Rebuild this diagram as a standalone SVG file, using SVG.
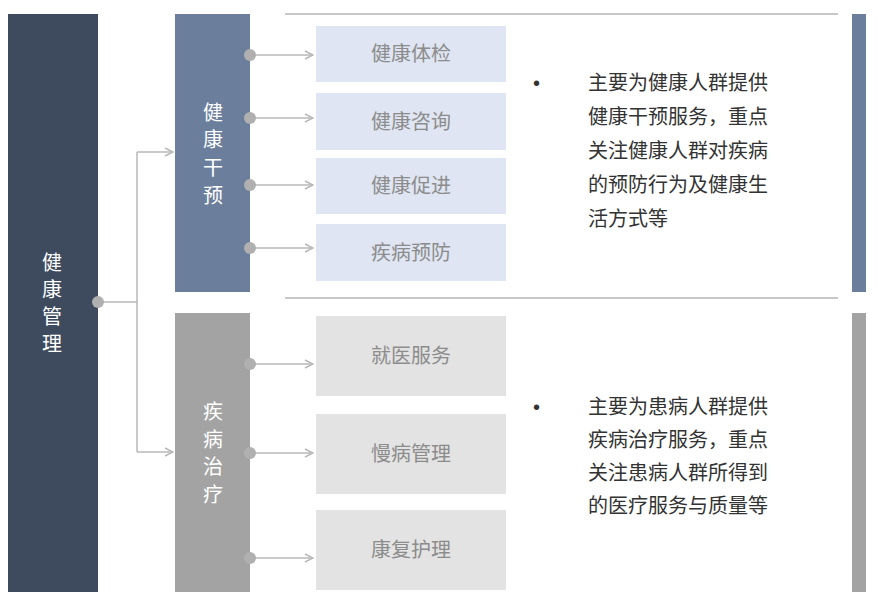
<svg xmlns="http://www.w3.org/2000/svg" width="880" height="604" viewBox="0 0 880 604">
<defs>
<style>
text{font-family:"Liberation Sans","Noto Sans CJK SC",sans-serif}
.v{fill:#fff;font-size:20px;text-anchor:middle}
.b{fill:#8c8c8c;font-size:20px;text-anchor:middle}
.d{fill:#333;font-size:20px}
.c{stroke:#b8b8b8;stroke-width:1.5;fill:none}
.dot{fill:#b0b0b0}
.bl{fill:#dfe5f2}
.gr{fill:#e3e3e3}
</style>
<marker id="a" markerWidth="10" markerHeight="10" refX="9" refY="5" orient="auto" markerUnits="userSpaceOnUse"><path d="M1,1 L9,5 L1,9" fill="none" stroke="#b8b8b8" stroke-width="1.5"/></marker>
</defs>
<rect width="880" height="604" fill="#fff"/>
<g id="root"><rect x="8" y="14" width="90" height="578" fill="#3e4b5e"/>
<text class="v" x="52" y="270">健</text><text class="v" x="52" y="297">康</text><text class="v" x="52" y="324">管</text><text class="v" x="52" y="351">理</text></g>
<g id="g1"><rect x="175" y="14" width="75" height="278" fill="#6b7f9d"/>
<text class="v" x="213" y="120">健</text><text class="v" x="213" y="147">康</text><text class="v" x="213" y="175">干</text><text class="v" x="213" y="203">预</text></g>
<g id="g2"><rect x="175" y="313" width="75" height="279" fill="#a3a3a3"/>
<text class="v" x="213" y="419">疾</text><text class="v" x="213" y="447">病</text><text class="v" x="213" y="474">治</text><text class="v" x="213" y="502">疗</text></g>
<g id="b1"><rect class="bl" x="316" y="26" width="190" height="56"/><text class="b" x="411" y="61">健康体检</text></g>
<g id="b2"><rect class="bl" x="316" y="93" width="190" height="57"/><text class="b" x="411" y="129">健康咨询</text></g>
<g id="b3"><rect class="bl" x="316" y="158" width="190" height="56"/><text class="b" x="411" y="193">健康促进</text></g>
<g id="b4"><rect class="bl" x="316" y="224" width="190" height="57"/><text class="b" x="411" y="260">疾病预防</text></g>
<g id="b5"><rect class="gr" x="316" y="316" width="190" height="80"/><text class="b" x="411" y="363">就医服务</text></g>
<g id="b6"><rect class="gr" x="316" y="414" width="190" height="80"/><text class="b" x="411" y="461">慢病管理</text></g>
<g id="b7"><rect class="gr" x="316" y="510" width="190" height="80"/><text class="b" x="411" y="557">康复护理</text></g>
<g id="desc1"><text class="d" x="533" y="90">•</text>
<text class="d" x="588" y="90">主要为健康人群提供</text><text class="d" x="588" y="124">健康干预服务，重点</text><text class="d" x="588" y="158">关注健康人群对疾病</text><text class="d" x="588" y="192">的预防行为及健康生</text><text class="d" x="588" y="226">活方式等</text></g>
<g id="desc2"><text class="d" x="533" y="414">•</text>
<text class="d" x="588" y="414">主要为患病人群提供</text><text class="d" x="588" y="447">疾病治疗服务，重点</text><text class="d" x="588" y="480">关注患病人群所得到</text><text class="d" x="588" y="513">的医疗服务与质量等</text></g>
<g id="deco">
<line x1="285" y1="14" x2="838" y2="14" stroke="#c8c8c8" stroke-width="2"/>
<line x1="285" y1="298" x2="838" y2="298" stroke="#c8c8c8" stroke-width="2"/>
<rect x="852" y="14" width="14" height="278" fill="#6b7f9d"/>
<rect x="852" y="313" width="14" height="279" fill="#a3a3a3"/>
</g>
<g id="connectors">
<path class="c" d="M98,302 H137 M137,152 V452" />
<path class="c" d="M137,152 H173" marker-end="url(#a)"/>
<path class="c" d="M137,452 H173" marker-end="url(#a)"/>
<path class="c" d="M250,55 H313" marker-end="url(#a)"/>
<path class="c" d="M250,118 H313" marker-end="url(#a)"/>
<path class="c" d="M250,185 H313" marker-end="url(#a)"/>
<path class="c" d="M250,248 H313" marker-end="url(#a)"/>
<path class="c" d="M250,364 H313" marker-end="url(#a)"/>
<path class="c" d="M250,453 H313" marker-end="url(#a)"/>
<path class="c" d="M250,558 H313" marker-end="url(#a)"/>
<circle class="dot" cx="98" cy="302" r="6"/>
<circle class="dot" cx="250" cy="55" r="6"/><circle class="dot" cx="250" cy="118" r="6"/>
<circle class="dot" cx="250" cy="185" r="6"/><circle class="dot" cx="250" cy="248" r="6"/>
<circle class="dot" cx="250" cy="364" r="6"/><circle class="dot" cx="250" cy="453" r="6"/>
<circle class="dot" cx="250" cy="558" r="6"/>
</g>
</svg>
